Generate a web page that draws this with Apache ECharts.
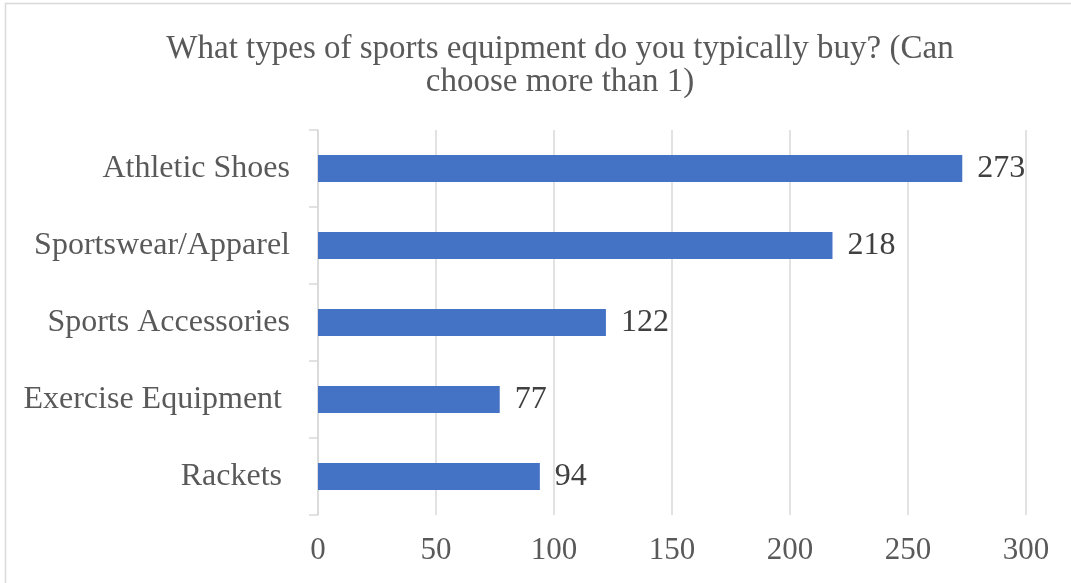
<!DOCTYPE html>
<html><head><meta charset="utf-8">
<script src="https://cdn.jsdelivr.net/npm/echarts@6/dist/echarts.min.js"></script>
<style>html,body{margin:0;padding:0;background:#fff}#c{width:1071px;height:583px}</style>
</head><body><div id="c"></div>
<script>
const categories = ['Athletic Shoes', 'Sportswear/Apparel', 'Sports Accessories', 'Exercise Equipment ', 'Rackets '];
const values = [273, 218, 122, 77, 94];
const xTicks = [0, 50, 100, 150, 200, 250, 300];
const titleText = 'What types of sports equipment do you typically buy? (Can\nchoose more than 1)';

const font = "'Liberation Serif', 'Times New Roman', serif";
const chart = echarts.init(document.getElementById('c'), null, {renderer: 'canvas'});
chart.setOption({
  animation: false,
  title: {
    text: titleText,
    left: 555, top: 28, textAlign: 'center',
    textStyle: {fontFamily: font, fontSize: 33, fontWeight: 'normal', color: '#595959', lineHeight: 33}
  },
  graphic: [{type: 'rect', shape: {x: 5.5, y: 3.5, width: 1075, height: 600}, style: {fill: 'none', stroke: '#d9d9d9', lineWidth: 1.5}, silent: true}],
  grid: {left: 318, right: 45, top: 130, bottom: 68},
  xAxis: {
    type: 'value', min: xTicks[0], max: xTicks[xTicks.length - 1], interval: 50,
    axisLine: {show: false}, axisTick: {show: false},
    splitLine: {lineStyle: {color: '#d9d9d9', width: 1.5}},
    axisLabel: {fontFamily: font, fontSize: 31, color: '#595959', margin: 20}
  },
  yAxis: {
    type: 'category', data: categories.slice().reverse(), inverse: false,
    axisLine: {lineStyle: {color: '#d9d9d9', width: 1.5}},
    axisTick: {show: true, length: 9, lineStyle: {color: '#d9d9d9', width: 1.5}},
    axisLabel: {fontFamily: font, fontSize: 32, color: '#595959', margin: 28}
  },
  series: [{
    type: 'bar', data: values.slice().reverse(), barWidth: 27,
    itemStyle: {color: '#4472C4'},
    label: {show: true, position: 'right', distance: 15, fontFamily: font, fontSize: 32, color: '#404040'}
  }]
});
</script></body></html>
